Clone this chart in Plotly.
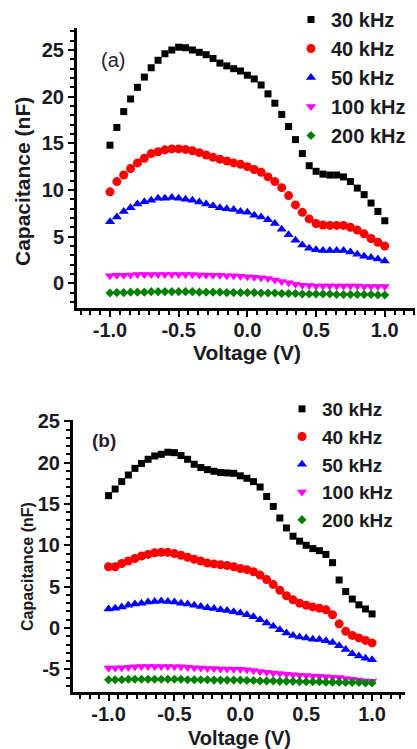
import plotly.graph_objects as go

# ---------------- data ----------------
voltage = [round(-1.0 + 0.05 * i, 2) for i in range(41)]

series_names = ["30 kHz", "40 kHz", "50 kHz", "100 kHz", "200 kHz"]

# panel (a)
a_30k = [14.8, 16.7, 18.4, 19.75, 21.0, 22.1, 23.1, 23.9, 24.6, 25.0, 25.3, 25.25, 25.0, 24.75, 24.5,
         24.1, 23.6, 23.3, 23.0, 22.75, 22.3, 21.9, 21.25, 20.3, 19.3, 18.1, 16.8, 15.4, 13.9, 12.6,
         12.0, 11.7, 11.6, 11.6, 11.4, 10.9, 10.2, 9.5, 8.6, 7.7, 6.7]
a_40k = [9.8, 10.9, 11.6, 12.3, 12.9, 13.4, 13.9, 14.1, 14.3, 14.4, 14.4, 14.35, 14.2, 14.0, 13.75,
         13.5, 13.3, 13.1, 12.9, 12.75, 12.5, 12.2, 11.9, 11.4, 10.9, 10.25, 9.4, 8.4, 7.6, 6.9,
         6.4, 6.25, 6.2, 6.2, 6.2, 6.0, 5.7, 5.3, 4.8, 4.4, 4.0]
a_50k = [6.6, 7.1, 7.7, 8.1, 8.5, 8.75, 8.9, 9.1, 9.1, 9.2, 9.1, 9.0, 8.9, 8.7, 8.5,
         8.3, 8.1, 8.0, 7.9, 7.7, 7.6, 7.3, 7.1, 6.8, 6.4, 5.8, 5.2, 4.6, 4.1, 3.75,
         3.6, 3.5, 3.5, 3.5, 3.5, 3.35, 3.1, 2.9, 2.75, 2.6, 2.4]
a_100k = [0.8, 0.85, 0.85, 0.9, 0.95, 0.95, 0.95, 0.95, 0.95, 0.95, 0.95, 0.95, 0.95, 0.9, 0.9,
          0.85, 0.85, 0.8, 0.8, 0.75, 0.7, 0.65, 0.6, 0.5, 0.35, 0.2, 0.05, -0.1, -0.2, -0.25,
          -0.3, -0.3, -0.3, -0.3, -0.3, -0.3, -0.3, -0.35, -0.35, -0.35, -0.35]
a_200k = [-1.05, -1.0, -1.0, -0.95, -0.95, -0.95, -0.9, -0.9, -0.9, -0.9, -0.9, -0.9, -0.9, -0.95, -0.95,
          -0.95, -0.95, -1.0, -1.0, -1.0, -1.0, -1.0, -1.05, -1.05, -1.05, -1.1, -1.1, -1.1, -1.15, -1.15,
          -1.15, -1.15, -1.15, -1.2, -1.2, -1.2, -1.2, -1.2, -1.2, -1.25, -1.25]

# panel (b)
b_30k = [16.0, 16.8, 17.7, 18.5, 19.3, 19.9, 20.4, 20.8, 21.0, 21.25, 21.2, 20.85, 20.4, 19.8, 19.4,
         19.15, 18.95, 18.8, 18.75, 18.7, 18.4, 18.1, 17.7, 17.05, 15.9, 14.7, 13.3, 12.1, 11.1, 10.5,
         10.0, 9.6, 9.35, 8.9, 7.9, 5.8, 4.4, 3.5, 2.8, 2.3, 1.7]
b_40k = [7.4, 7.4, 7.8, 8.1, 8.4, 8.7, 8.9, 9.1, 9.15, 9.15, 9.0, 8.8, 8.55, 8.3, 8.1,
         7.85, 7.75, 7.65, 7.55, 7.4, 7.2, 7.05, 6.8, 6.4, 5.85, 5.25, 4.55, 3.9, 3.4, 3.0,
         2.75, 2.55, 2.4, 2.2, 1.6, 0.5, -0.4, -0.9, -1.2, -1.5, -1.8]
b_50k = [2.3, 2.4, 2.55, 2.75, 2.9, 3.0, 3.15, 3.2, 3.25, 3.2, 3.15, 3.0, 2.9, 2.75, 2.6,
         2.45, 2.35, 2.2, 2.1, 1.95, 1.8, 1.6, 1.35, 1.0, 0.6, 0.2, -0.2, -0.6, -0.9, -1.1,
         -1.2, -1.35, -1.4, -1.55, -1.75, -2.15, -2.6, -3.1, -3.4, -3.65, -3.85]
b_100k = [-4.85, -4.85, -4.8, -4.75, -4.7, -4.65, -4.65, -4.65, -4.65, -4.65, -4.7, -4.7, -4.75, -4.8, -4.85,
          -4.9, -4.9, -4.95, -4.95, -5.0, -5.0, -5.05, -5.15, -5.25, -5.35, -5.45, -5.5, -5.6, -5.65, -5.7,
          -5.75, -5.8, -5.85, -5.9, -5.95, -6.0, -6.1, -6.2, -6.3, -6.4, -6.45]
b_200k = [-6.25, -6.25, -6.25, -6.2, -6.2, -6.2, -6.2, -6.2, -6.2, -6.2, -6.2, -6.2, -6.25, -6.25, -6.25,
          -6.25, -6.3, -6.3, -6.3, -6.3, -6.3, -6.35, -6.35, -6.4, -6.4, -6.4, -6.45, -6.45, -6.45, -6.5,
          -6.5, -6.5, -6.5, -6.55, -6.55, -6.55, -6.6, -6.6, -6.6, -6.65, -6.65]

x_tick_vals = [-1.0, -0.5, 0.0, 0.5, 1.0]
x_tick_text = ["-1.0", "-0.5", "0.0", "0.5", "1.0"]
ya_tick_vals = [0, 5, 10, 15, 20, 25]
ya_tick_text = ["0", "5", "10", "15", "20", "25"]
yb_tick_vals = [-5, 0, 5, 10, 15, 20, 25]
yb_tick_text = ["-5", "0", "5", "10", "15", "20", "25"]

# ---------------- styling ----------------
colors = ["#000000", "#ff0000", "#0000ff", "#ff00ff", "#008000"]
symbols = ["square", "circle", "triangle-up", "triangle-down", "diamond"]
sizes = [7, 9, 9, 9, 7]
FONT = "Liberation Sans, Arial, sans-serif"
TXT = "#1a1a22"
W, H = 417, 749

fig = go.Figure()
panels = [
    ([a_30k, a_40k, a_50k, a_100k, a_200k], "x", "y", "legend"),
    ([b_30k, b_40k, b_50k, b_100k, b_200k], "x2", "y2", "legend2"),
]
for ys, xa, ya, lg in panels:
    for name, yv, c, s, sz in zip(series_names, ys, colors, symbols, sizes):
        fig.add_trace(go.Scatter(
            x=voltage, y=yv, mode="markers", name=name,
            marker=dict(color=c, symbol=s, size=sz, line=dict(width=0)),
            xaxis=xa, yaxis=ya, legend=lg))

tickfont = dict(family=FONT, size=20, color=TXT, weight="bold")
common_axis = dict(showgrid=False, zeroline=False, showline=True, linecolor="black",
                   linewidth=3, ticks="outside", ticklen=6, tickwidth=2, tickcolor="black",
                   tickfont=tickfont, automargin=False)
minor_x = dict(dtick=1 / 14, tick0=-1, ticks="outside", ticklen=4, tickwidth=2, tickcolor="black")
minor_y = dict(dtick=1, tick0=0, ticks="outside", ticklen=4, tickwidth=2, tickcolor="black")


def xdom(l, r):
    return [l / W, r / W]


def ydom(top, bot):
    return [1 - bot / H, 1 - top / H]


fig.update_layout(
    width=W, height=H, paper_bgcolor="white", plot_bgcolor="white",
    margin=dict(l=0, r=0, t=0, b=0, autoexpand=False),
    xaxis=dict(domain=xdom(77, 415), range=[-1.24, 1.22], anchor="y",
               tickvals=x_tick_vals, ticktext=x_tick_text, minor=minor_x,
               ticklabelstandoff=-4, **common_axis),
    yaxis=dict(domain=ydom(28, 308), range=[-2.65, 27.36], anchor="x",
               tickvals=ya_tick_vals, ticktext=ya_tick_text, minor=minor_y, **common_axis),
    xaxis2=dict(domain=xdom(73, 405), range=[-1.27, 1.25], anchor="y2",
                tickvals=x_tick_vals, ticktext=x_tick_text, minor=minor_x,
                ticklabelstandoff=-4, **common_axis),
    yaxis2=dict(domain=ydom(420, 692), range=[-7.74, 25.15], anchor="x2",
                tickvals=yb_tick_vals, ticktext=yb_tick_text, minor=minor_y, **common_axis),
    legend=dict(x=291 / W, y=1 - 0 / H, xanchor="left", yanchor="top",
                bgcolor="rgba(0,0,0,0)", borderwidth=0,
                font=dict(family=FONT, size=20, color=TXT, weight="bold")),
    legend2=dict(x=282 / W, y=1 - 390 / H, xanchor="left", yanchor="top",
                 bgcolor="rgba(0,0,0,0)", borderwidth=0,
                 font=dict(family=FONT, size=19, color=TXT, weight="bold")),
)

title_font_a = dict(family=FONT, size=21, color=TXT, weight="bold")
title_font_b = dict(family=FONT, size=16, color=TXT, weight="bold")
annotations = [
    dict(text="Capacitance (nF)", x=22 / W, y=1 - 182 / H, textangle=-90, font=title_font_a),
    dict(text="Voltage (V)", x=246.5 / W, y=1 - 352 / H, font=title_font_a),
    dict(text="(a)", x=113 / W, y=1 - 60 / H, font=dict(family=FONT, size=20, color="#2a2030")),
    dict(text="Capacitance (nF)", x=27 / W, y=1 - 567 / H, textangle=-90, font=title_font_b),
    dict(text="Voltage (V)", x=239 / W, y=1 - 738 / H,
         font=dict(family=FONT, size=20, color=TXT, weight="bold")),
    dict(text="(b)", x=104 / W, y=1 - 440 / H,
         font=dict(family=FONT, size=19, color="#2a2030", weight="bold")),
]
for an in annotations:
    an.update(xref="paper", yref="paper", showarrow=False, xanchor="center", yanchor="middle")
fig.update_layout(annotations=annotations)

fig.write_html("out.html", config={"displayModeBar": False},
               post_script="document.body.style.margin='0px';")
